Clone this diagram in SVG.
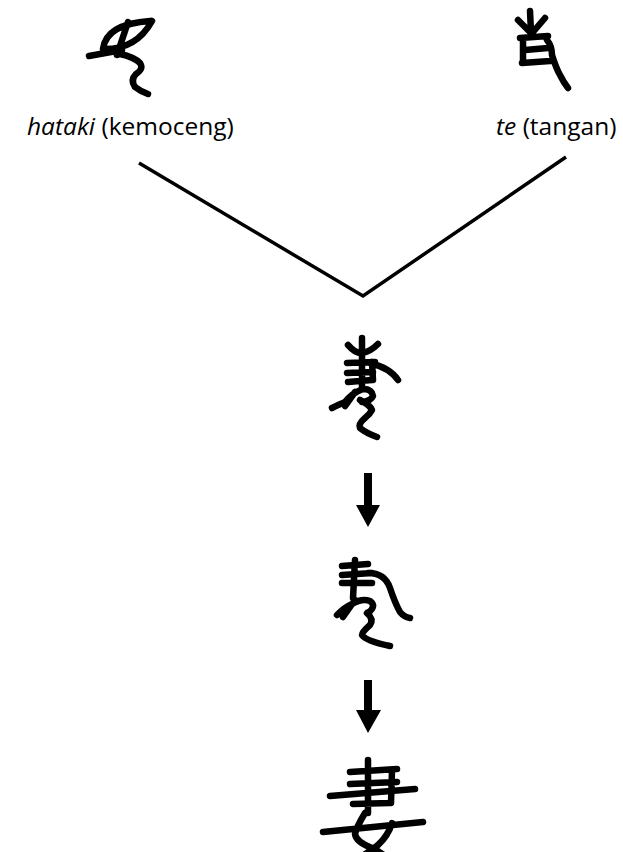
<svg xmlns="http://www.w3.org/2000/svg" width="623" height="852" viewBox="0 0 623 852">
<style>
.g{fill:none;stroke:#000;stroke-width:6.5;stroke-linecap:round;stroke-linejoin:round}
.lbl{font-family:"Open Sans","Liberation Sans",sans-serif;font-size:24.5px;fill:#000}
.conn{stroke:#000;stroke-width:3.5;fill:none}
</style>
<rect width="623" height="852" fill="#fff"/>
<g id="hataki">
<path class="g" d="M103,49 Q106,24 150,21 M103,49 Q136,50 152,21 M128,22 L117,55 M89,56 L122,50 M120,54 Q134,57 140,63 Q144,69 136,74 Q130,80 135,87 Q140,91 148,94"/>
<text class="lbl" x="27" y="135"><tspan font-style="italic">hataki</tspan> (kemoceng)</text>
</g>
<g id="te">
<path class="g" d="M530,11 L531,32 M518,20 L530,32 M545,18 L533,32 M520,38 L548,36 M523,40 L523,63 M525,50 L548,48 M522,63 L550,61 M547,40 Q552,46 552,55 Q556,68 560,75 Q564,83 568,88"/>
<text class="lbl" x="496" y="135"><tspan font-style="italic">te</tspan> (tangan)</text>
</g>
<g id="connectors">
<polyline class="conn" points="139,163 363,296 566,157"/>
<path d="M364,473 H372 V505 H380 L368,527 L356,505 H364 Z" fill="#000"/>
<path d="M364,680 H372 V710 H381 L368,733 L356,710 H364 Z" fill="#000"/>
</g>
<g id="stage1">
<path class="g" d="M348,345 Q356,354 362,353 Q370,352 378,344 M362,338 L362,388 M347,363 L375,362 M347,373 L373,372 M348,382 L372,380 M372,362 L373,380 M370,363 Q390,368 398,380 M332,408 Q340,404 345,402 Q352,393 363,389 Q372,389 373,396 Q371,401 362,402 M355,392 L345,406 M360,400 Q370,405 372,410 Q370,414 365,418 Q358,424 360,428 Q366,433 377,437"/>
</g>
<g id="stage2">
<path class="g" d="M342,566 L368,564 M342,575 L372,573 M342,583 L372,583 M355,560 L353,598 M368,573 Q385,573 390,588 Q395,603 400,612 Q404,617 410,618 M337,615 Q345,607 352,604 Q362,598 370,601 Q377,606 368,613 M355,600 L343,617 M367,613 Q374,619 370,625 Q362,632 362,635 Q366,641 390,646"/>
</g>
<g id="stage3">
<path class="g" d="M368,760 L368,813 M350,772 L397,769 M350,784 L397,782 M330,796 L415,789 M353,804 L390,803 M392,770 L391,803 M323,832 L423,822 M365,813 Q356,828 355,834 Q356,842 372,848 Q380,852 385,856 M392,823 Q388,836 378,845 Q370,852 360,857"/>
</g>
</svg>
